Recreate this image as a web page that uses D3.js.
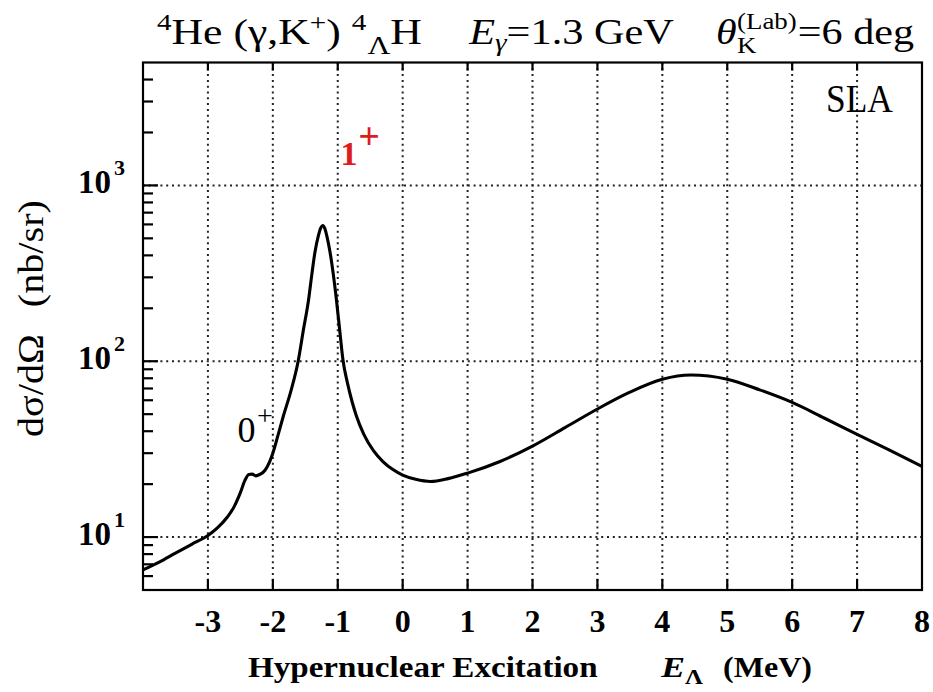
<!DOCTYPE html>
<html><head><meta charset="utf-8">
<script src="https://cdn.jsdelivr.net/npm/d3@7"></script>
<style>body{margin:0;background:#fff} svg{display:block}</style>
</head><body><svg id="c" width="933" height="692"></svg>
<script>
// ---- data ----
const energies = [-4.0,-3.75,-3.5,-3.25,-3.0,-2.85,-2.7,-2.6,-2.5,-2.43,-2.37,-2.32,-2.26,-2.2,-2.12,-2.05,-2.0,-1.92,-1.84,-1.72,-1.61,-1.53,-1.45,-1.4,-1.35,-1.3,-1.26,-1.23,-1.2,-1.16,-1.12,-1.07,-1.02,-0.97,-0.92,-0.85,-0.78,-0.71,-0.6,-0.45,-0.3,-0.15,0.0,0.2,0.43,0.7,1.0,1.5,2.0,2.5,3.0,3.5,4.0,4.44,5.0,5.5,6.0,6.5,7.0,7.5,8.0];
const crossSections = [6.5,7.2,8.1,9.1,10.2,11.3,13.0,14.8,17.9,21.0,22.7,22.8,22.3,22.7,24.0,26.8,30,38,48.5,68,100,150,223,310,420,515,575,592,570,500,420,315,223,150,102,75,59,48.5,38.5,31,26.8,24.2,22.5,21.3,20.7,21.5,23.1,26.9,32.9,41.9,53.5,66.7,79,83.5,79,68.7,58.3,47.4,38.4,31.2,25.2];
const xTicks = [-3,-2,-1,0,1,2,3,4,5,6,7,8];
const xTickLabels = ["-3","-2","-1","0","1","2","3","4","5","6","7","8"];
const yMajorTicks = [10,100,1000];
const yTickExponents = ["1","2","3"];

const svg = d3.select("#c");
const L = 143, R = 922, T = 62.5, B = 590;
const x = d3.scaleLinear().domain([-4, 8]).range([L, R]);
const y = d3.scaleLog().domain([5, 5000]).range([B, T]);
const serif = "'Liberation Serif', 'Times New Roman', serif";

// grid
const grid = svg.append("g").attr("stroke", "#222").attr("stroke-width", 2).attr("stroke-dasharray", "2 3.8");
grid.selectAll("line.v").data(xTicks.filter(d => d < 8)).join("line")
  .attr("x1", d => x(d)).attr("x2", d => x(d)).attr("y1", T).attr("y2", B);
grid.selectAll("line.h").data(yMajorTicks).join("line")
  .attr("x1", L).attr("x2", R).attr("y1", d => y(d)).attr("y2", d => y(d));

// ticks
const minor = [];
[1, 10, 100, 1000].forEach(dec => { for (let k = 2; k <= 9; k++) { const v = k * dec; if (v > 5 && v < 5000) minor.push(v); } });
const tk = svg.append("g").attr("stroke", "#000").attr("stroke-width", 2.2);
tk.selectAll("line.mn").data(minor).join("line")
  .attr("x1", L).attr("x2", L + 10).attr("y1", d => y(d)).attr("y2", d => y(d));
tk.selectAll("line.mj").data(yMajorTicks).join("line")
  .attr("x1", L).attr("x2", L + 15).attr("y1", d => y(d)).attr("y2", d => y(d));
tk.selectAll("line.xb").data(xTicks.filter(d => d < 8)).join("line")
  .attr("x1", d => x(d)).attr("x2", d => x(d)).attr("y1", B).attr("y2", B - 11);
tk.selectAll("line.xt").data(xTicks.filter(d => d < 8)).join("line")
  .attr("x1", d => x(d)).attr("x2", d => x(d)).attr("y1", T).attr("y2", T + 8);

// curve
const line = d3.line().x((d, i) => x(energies[i])).y((d, i) => y(crossSections[i])).curve(d3.curveMonotoneX);
svg.append("path").datum(crossSections).attr("d", line)
  .attr("fill", "none").attr("stroke", "#000").attr("stroke-width", 3.1).attr("stroke-linejoin", "round");

// frame
svg.append("rect").attr("x", L).attr("y", T).attr("width", R - L).attr("height", B - T)
  .attr("fill", "none").attr("stroke", "#000").attr("stroke-width", 2.2);

// x tick labels
svg.append("g").selectAll("text").data(xTicks).join("text")
  .attr("x", d => x(d)).attr("y", 632).attr("text-anchor", "middle")
  .attr("font-family", serif).attr("font-weight", "bold").attr("font-size", 32)
  .text((d, i) => xTickLabels[i]);

// y tick labels
const yl = svg.append("g").attr("font-family", serif).attr("font-weight", "bold");
yl.selectAll("text.b").data(yMajorTicks).join("text")
  .attr("x", 111).attr("y", d => y(d) + 8).attr("text-anchor", "end").attr("font-size", 33).text("10");
yl.selectAll("text.e").data(yMajorTicks).join("text")
  .attr("x", 114).attr("y", d => y(d) - 10).attr("font-size", 22).text((d, i) => yTickExponents[i]);

// horizontal fit: keep font height, stretch width to target
function fitW(g, x0, y0, w) {
  const b = g.node().getBBox();
  const k = w / b.width;
  g.attr("transform", `translate(${x0},${y0}) scale(${k},1) translate(${-b.x},0)`);
}
function piece(parts, x0, y0, w, fs, weight) {
  const g = svg.append("g");
  const t = g.append("text").attr("font-family", serif).attr("font-size", fs).attr("font-weight", weight || "normal").attr("x", 0).attr("y", 0);
  parts.forEach(p => {
    const s = t.append("tspan").text(p.t);
    if (p.dy) s.attr("dy", p.dy);
    if (p.dx) s.attr("dx", p.dx);
    if (p.fs) s.attr("font-size", p.fs);
    if (p.it) s.attr("font-style", "italic");
  });
  fitW(g, x0, y0, w);
  return g;
}
// title
piece([{t:"4", fs:24, dy:-14}, {t:"He (γ,K", dy:14}, {t:"+", fs:24, dy:-14}, {t:") ", dy:14}, {t:"4", fs:24, dy:-14}, {t:"Λ", fs:26, dy:24, dx:1}, {t:"H", dy:-10}], 157, 44, 265, 36);
piece([{t:"E", it:true}, {t:"γ", fs:25, dy:7, it:true}, {t:"=1.3 GeV", dy:-7}], 468, 44, 206, 36);
(function(){
  const g = svg.append("g");
  const t = g.append("text").attr("font-family", serif).attr("font-size", 36);
  t.append("tspan").attr("x", 0).attr("y", 0).attr("font-style", "italic").text("θ");
  t.append("tspan").attr("x", 18).attr("y", 9).attr("font-size", 23).text("K");
  t.append("tspan").attr("x", 18).attr("y", -15).attr("font-size", 23).text("(Lab)");
  t.append("tspan").attr("x", 70).attr("y", 0).text("=6 deg");
  fitW(g, 716, 44, 198);
})();

// SLA
piece([{t:"SLA"}], 826, 112, 67, 40);

// state labels
svg.append("text").attr("x", 349).attr("y", 165).attr("text-anchor", "middle")
  .attr("font-family", serif).attr("font-weight", "bold").attr("font-size", 34).attr("fill", "#dd1c1c").text("1");
svg.append("text").attr("x", 369).attr("y", 149).attr("text-anchor", "middle")
  .attr("font-family", serif).attr("font-weight", "bold").attr("font-size", 38).attr("fill", "#dd1c1c").text("+");
svg.append("text").attr("x", 246.5).attr("y", 442).attr("text-anchor", "middle")
  .attr("font-family", serif).attr("font-size", 36).attr("fill", "#000").text("0");
svg.append("text").attr("x", 265).attr("y", 425).attr("text-anchor", "middle")
  .attr("font-family", serif).attr("font-size", 28).attr("fill", "#000").text("+");

// x axis title
piece([{t:"Hypernuclear Excitation"}], 248, 677, 350, 30, "bold");
piece([{t:"E", it:true}, {t:"Λ", fs:21, dy:7}], 660, 677, 43, 30, "bold");
piece([{t:"(MeV)"}], 723, 677, 89, 30, "bold");

// y axis title (rotated)
(function(){
  const outer = svg.append("g");
  const g = outer.append("g");
  const t = g.append("text").attr("font-family", serif).attr("font-size", 36).attr("x", 0).attr("y", 0);
  t.append("tspan").text("dσ/dΩ");
  t.append("tspan").attr("dx", 24).text("(nb/sr)");
  const b = g.node().getBBox();
  const k = 237 / b.width;
  g.attr("transform", `scale(${k},1) translate(${-b.x - b.width/2},0)`);
  outer.attr("transform", `translate(43,318.5) rotate(-90)`);
})();
</script>
</body></html>
